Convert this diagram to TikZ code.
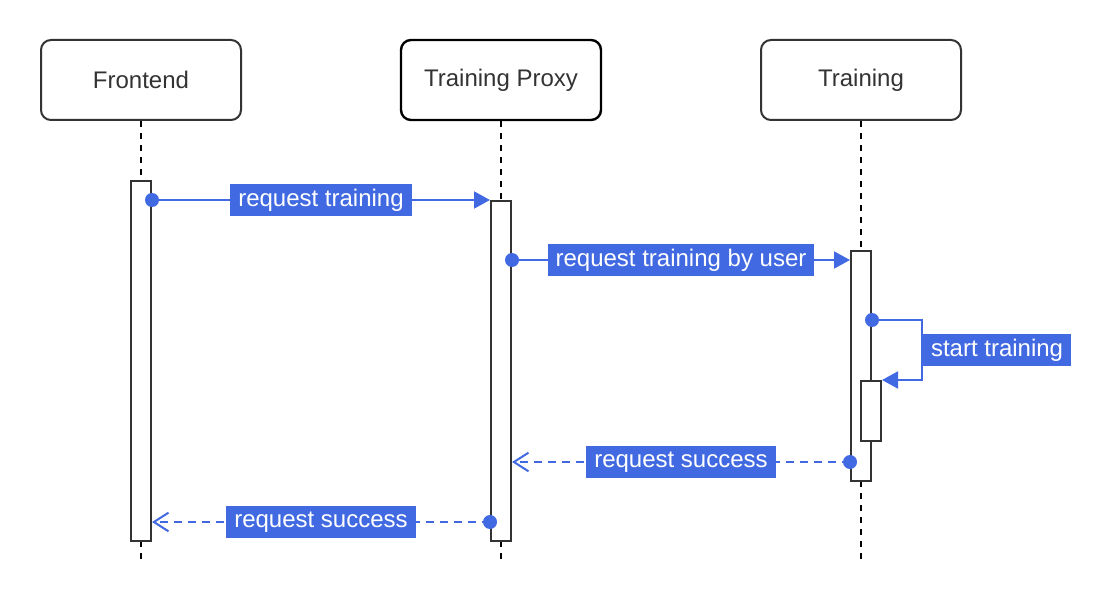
\documentclass[tikz,border=0pt]{standalone}
\usepackage{fontspec}
\setmainfont{Liberation Sans}
\usepackage{tikz}
\usetikzlibrary{arrows.meta, positioning, calc}
\definecolor{msgblue}{HTML}{4169E1}
\definecolor{ink}{HTML}{333333}

\begin{document}
\begin{tikzpicture}[
  x=0.75pt, y=-0.75pt,
  head/.style={rectangle, draw=ink, line width=1.5pt, rounded corners=7.5pt,
    fill=white, minimum width=150pt, minimum height=60pt,
    text=ink, font=\fontsize{18}{21}\selectfont},
  life/.style={line width=1.5pt, dash pattern=on 4.5pt off 4.5pt},
  act/.style={rectangle, draw=ink, line width=1.5pt, fill=white,
    minimum width=15pt, inner sep=0pt},
  call/.style={-{Triangle[length=12pt, width=12.75pt]}, line width=1.5pt, color=msgblue},
  reply/.style={-{Straight Barb[length=11pt, width=14pt]}, line width=1.5pt,
    color=msgblue, dash pattern=on 6pt off 4.5pt},
  lbl/.style={rectangle, fill=msgblue, text=white, inner xsep=6pt, inner ysep=0pt,
    minimum height=24pt, font=\fontsize{18}{21}\selectfont},
  dot/.style={fill=msgblue}
]
  \useasboundingbox (0,0) rectangle (1110,602);

  %% Participants
  \node[head] (fe) at (141,80) {Frontend};
  \node[head, draw=black, line width=1.8pt] (proxy) at (501,80) {Training Proxy};
  \node[head] (train) at (861,80) {Training};

  %% Lifelines
  \coordinate (bot) at (0,560);
  \foreach \p in {fe, proxy, train}
    \draw[life] (\p.south) -- (\p.south |- bot);

  %% Activation bars
  \node[act, minimum height=270pt] (feact) at (141,361) {};
  \node[act, minimum height=255pt] (proxyact) at (501,371) {};
  \node[act, minimum height=172.5pt] (trainact) at (861,366) {};
  \node[act, minimum height=45pt] (subact) at (871,411) {};

  %% Message start points
  \coordinate (m1s) at ([yshift=-15pt]feact.north east);
  \coordinate (m2s) at ([yshift=-45pt]proxyact.north east);
  \coordinate (m3s) at ([yshift=-52.5pt]trainact.north east);
  \coordinate (m4s) at ([yshift=15pt]trainact.south west);
  \coordinate (m5s) at ([yshift=15pt]proxyact.south west);

  %% Calls
  \draw[call] (m1s) -- node[lbl] {request training} (m1s -| proxyact.west);
  \draw[call] (m2s) -- node[lbl] {request training by user} (m2s -| trainact.west);
  \draw[call] (m3s) -- ++(37.5pt,0) |-
    node[lbl, anchor=west, pos=0.25] {start training} (subact.north east);

  %% Replies
  \draw[reply] (m4s) -- node[lbl] {request success} (m4s -| proxyact.east);
  \draw[reply] (m5s) -- node[lbl] {request success} (m5s -| feact.east);

  \foreach \c in {m1s, m2s, m3s, m4s, m5s}
    \fill[dot] (\c) circle[radius=5.25pt];

\end{tikzpicture}
\end{document}
